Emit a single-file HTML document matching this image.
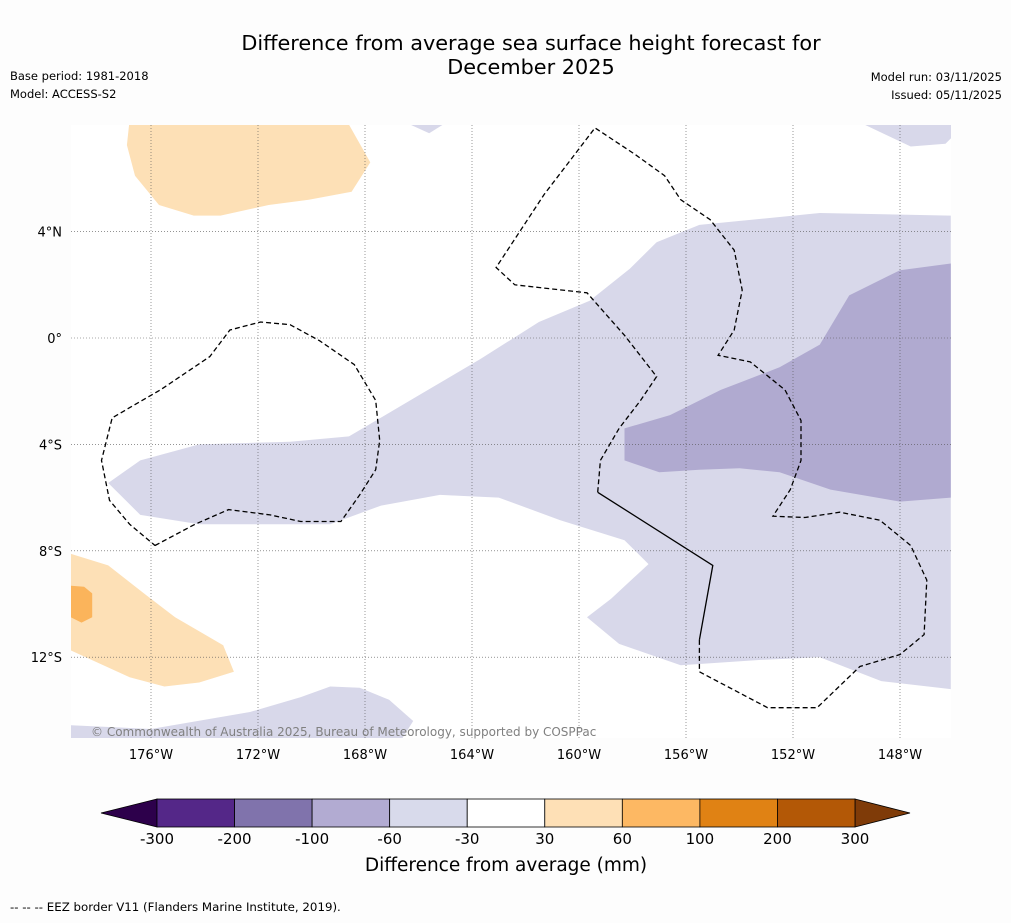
<!DOCTYPE html>
<html><head><meta charset="utf-8">
<style>
html,body{margin:0;padding:0;background:#fdfdfd;}
body{width:1011px;height:919px;overflow:hidden;font-family:"DejaVu Sans","Liberation Sans",sans-serif;}
svg text{font-family:"DejaVu Sans","Liberation Sans",sans-serif;}
</style></head>
<body>
<svg id="chart" width="1011" height="919" viewBox="0 0 1011 919">
<rect x="0" y="0" width="1011" height="919" fill="#fdfdfd"/>
<text x="531" y="50" font-size="20.8" text-anchor="middle" fill="#000">Difference from average sea surface height forecast for</text>
<text x="531" y="74" font-size="20.8" text-anchor="middle" fill="#000">December 2025</text>
<text x="10" y="80" font-size="11.5">Base period: 1981-2018</text>
<text x="10" y="98" font-size="11.5">Model: ACCESS-S2</text>
<text x="1002" y="81" font-size="11.5" text-anchor="end">Model run: 03/11/2025</text>
<text x="1002" y="99" font-size="11.5" text-anchor="end">Issued: 05/11/2025</text>
<defs><clipPath id="mapclip"><rect x="71" y="125" width="880" height="613"/></clipPath></defs>
<rect x="71" y="125" width="880" height="613" fill="#fff"/>
<g id="fills" clip-path="url(#mapclip)"></g>
<g id="grid"></g>
<g id="eez" clip-path="url(#mapclip)"></g>
<text x="91" y="736" font-size="12" fill="#808080">© Commonwealth of Australia 2025, Bureau of Meteorology, supported by COSPPac</text>
<g id="colorbar"></g>
<text x="506" y="871" font-size="18.5" text-anchor="middle">Difference from average (mm)</text>
<text x="10" y="911" font-size="11.8">--  --  -- EEZ border V11 (Flanders Marine Institute, 2019).</text>
</svg>
<script>
// axes (degrees West, latitude)
const lonTicks = [176,172,168,164,160,156,152,148];
const latTicks = [4,0,-4,-8,-12];
const latLabels = ["4°N","0°","4°S","8°S","12°S"];
// colorbar data
const cbLevels = [-300,-200,-100,-60,-30,30,60,100,200,300];
const cbColors = ["#542788","#8073ac","#b2abd2","#d8daeb","#ffffff","#fee0b6","#fdb863","#e08214","#b35806"];
const cbUnder = "#2d004b";
const cbOver = "#7f3b08";
// contour regions [degW, lat]
const regLight = [[177.6,-5.45],[176.4,-4.6],[174.2,-4.0],[170.8,-3.9],[168.6,-3.7],[165.9,-2.1],[163.7,-0.8],[161.5,0.6],[159.6,1.4],[158.1,2.6],[157.1,3.6],[155.5,4.25],[151.0,4.7],[146.1,4.6],[146.1,-13.2],[148.7,-12.9],[151.0,-12.0],[153.2,-12.1],[156.2,-12.3],[158.5,-11.5],[159.7,-10.5],[158.8,-9.8],[157.4,-8.5],[158.3,-7.6],[160.7,-6.85],[163.0,-6.0],[165.2,-5.9],[167.4,-6.3],[169.3,-7.0],[171.2,-7.0],[174.2,-7.0],[176.4,-6.65]];
const regDark = [[158.3,-3.4],[156.6,-2.9],[154.7,-1.95],[152.5,-1.1],[151.0,-0.25],[149.9,1.6],[148.0,2.55],[146.1,2.8],[146.1,-6.0],[148.0,-6.15],[150.6,-5.7],[152.5,-5.05],[154.0,-4.9],[155.5,-4.95],[157.0,-5.05],[158.3,-4.6]];
const regLightBottom = [[179.2,-14.55],[176.0,-14.7],[172.3,-14.06],[170.4,-13.5],[169.3,-13.1],[168.2,-13.15],[167.1,-13.6],[166.2,-14.4],[166.7,-15.2],[179.2,-15.2]];
const regLightTop = [[166.7,8.2],[165.6,7.7],[164.8,8.2]];
const regLightTopRight = [[149.7,8.2],[147.6,7.2],[146.3,7.3],[146.0,7.6],[146.0,8.2]];
const regOrangeTop = [[176.8,8.2],[176.9,7.25],[176.6,6.1],[175.7,5.0],[174.4,4.6],[173.4,4.6],[171.6,5.0],[170.1,5.2],[168.5,5.5],[167.8,6.6],[168.7,8.2]];
const regOrangeBottom = [[179.2,-8.05],[177.6,-8.55],[176.2,-9.65],[175.1,-10.5],[173.3,-11.55],[172.9,-12.55],[174.2,-12.95],[175.5,-13.1],[176.8,-12.75],[179.2,-11.65]];
const regOrangeDark = [[179.2,-9.3],[178.5,-9.35],[178.2,-9.6],[178.2,-10.5],[178.6,-10.7],[179.2,-10.4]];
// EEZ borders
const eezLeft = [[175.85,-7.8],[174.35,-7.0],[173.1,-6.45],[171.55,-6.65],[170.4,-6.9],[168.9,-6.9],[168.2,-5.9],[167.6,-4.95],[167.45,-3.85],[167.6,-2.35],[168.4,-1.0],[169.7,-0.1],[170.8,0.5],[171.9,0.6],[173.05,0.3],[173.8,-0.7],[175.65,-1.95],[177.45,-3.0],[177.85,-4.6],[177.55,-6.1],[176.8,-7.0],[175.85,-7.8]];
const eezMid = [[155.5,-11.35],[155.5,-12.55],[152.95,-13.9],[151.1,-13.9],[149.5,-12.35],[148.0,-11.9],[147.1,-11.15],[147.0,-9.1],[147.6,-7.8],[148.75,-6.85],[150.25,-6.55],[151.55,-6.75],[152.75,-6.7],[152.1,-5.7],[151.7,-4.6],[151.7,-3.1],[152.3,-1.95],[153.6,-0.9],[154.8,-0.65],[154.2,0.3],[153.9,1.8],[154.2,3.3],[155.1,4.45],[156.2,5.2],[156.8,6.1],[157.9,6.9],[159.4,7.9],[161.3,5.4],[163.1,2.65],[162.4,2.0],[161.5,1.9],[159.7,1.7],[158.3,0.1],[157.1,-1.45],[157.7,-2.35],[158.5,-3.4],[159.2,-4.6],[159.3,-5.8]];
const eezSolid = [[159.3,-5.8],[155.0,-8.55],[155.5,-11.35]];

const X = w => 151 + (176 - w) * 26.75;
const Y = lat => 338 - lat * 26.6;
const NS = "http://www.w3.org/2000/svg";
const mk = (t, p, parent) => { const e = document.createElementNS(NS, t); for (const k in p) e.setAttribute(k, p[k]); parent.appendChild(e); return e; };
const pts = arr => arr.map(p => X(p[0]).toFixed(1) + "," + Y(p[1]).toFixed(1)).join(" ");

const fills = document.getElementById("fills");
const regions = [
  [regLight, "#d8d8ea", "region-minus60-minus30"],
  [regLightBottom, "#d8d8ea", "region-minus60-minus30-south"],
  [regLightTop, "#d8d8ea", "region-minus60-minus30-north"],
  [regLightTopRight, "#d8d8ea", "region-minus60-minus30-northeast"],
  [regDark, "#b0aad0", "region-minus100-minus60"],
  [regOrangeTop, "#fde0b6", "region-30-60-north"],
  [regOrangeBottom, "#fde0b6", "region-30-60-southwest"],
  [regOrangeDark, "#fbb45b", "region-60-100"]
];
regions.forEach(r => {
  const e = mk("polygon", {points: pts(r[0]), fill: r[1]}, fills);
  
  
});

const grid = document.getElementById("grid");
lonTicks.forEach(w => {
  const l = mk("line", {x1: X(w), x2: X(w), y1: 125, y2: 738, stroke: "#555", "stroke-width": 0.6, "stroke-dasharray": "1,2"}, grid);
  
  
  const t = mk("text", {x: X(w), y: 759, "font-size": 13, "text-anchor": "middle"}, grid);
  t.textContent = w + "°W";
  
  
});
latTicks.forEach((lat, i) => {
  const l = mk("line", {x1: 71, x2: 951, y1: Y(lat), y2: Y(lat), stroke: "#555", "stroke-width": 0.6, "stroke-dasharray": "1,2"}, grid);
  
  
  const t = mk("text", {x: 62, y: Y(lat) + 5, "font-size": 13, "text-anchor": "end"}, grid);
  t.textContent = latLabels[i];
  
  
});

const eez = document.getElementById("eez");
[[eezLeft, "eez-border-west"], [eezMid, "eez-border-central"]].forEach(r => {
  const e = mk("polyline", {points: pts(r[0]), fill: "none", stroke: "#000", "stroke-width": 1.3, "stroke-dasharray": "5,3"}, eez);
  
  
});
const es = mk("polyline", {points: pts(eezSolid), fill: "none", stroke: "#000", "stroke-width": 1.3}, eez);



// colorbar
const cb = document.getElementById("colorbar");
const cbX0 = 157, cbX1 = 855, cbY = 799, cbH = 28;
const seg = (cbX1 - cbX0) / cbColors.length;
const ut = mk("polygon", {points: `${cbX0},${cbY} ${cbX0},${cbY+cbH} 101,${cbY+cbH/2}`, fill: cbUnder, stroke: "#000", "stroke-width": 0.8}, cb);


const ot = mk("polygon", {points: `${cbX1},${cbY} ${cbX1},${cbY+cbH} 910,${cbY+cbH/2}`, fill: cbOver, stroke: "#000", "stroke-width": 0.8}, cb);


cbColors.forEach((c, i) => {
  const r = mk("rect", {x: cbX0 + i * seg, y: cbY, width: seg, height: cbH, fill: c, stroke: "#000", "stroke-width": 0.8}, cb);
  
  
});
cbLevels.forEach((v, i) => {
  const t = mk("text", {x: cbX0 + i * seg, y: cbY + cbH + 17, "font-size": 15, "text-anchor": "middle"}, cb);
  t.textContent = v;
  
  
});
</script>
</body></html>
